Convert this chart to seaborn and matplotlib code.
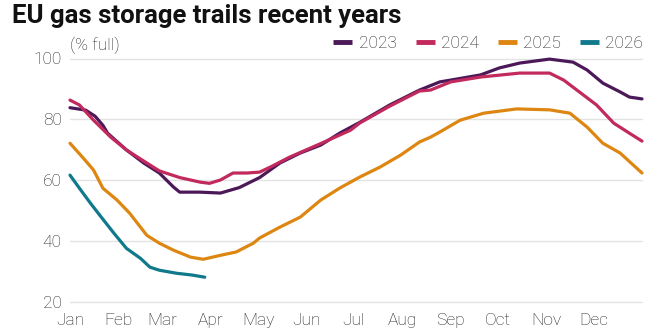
import matplotlib
matplotlib.use("Agg")
import matplotlib.pyplot as plt
from matplotlib.lines import Line2D
import seaborn as sns
import pandas as pd

# ---- data (day of year, % full) ----
days_2023 = [0, 10, 16, 21, 24, 36, 47, 57, 66, 70, 83, 96, 108, 121, 134, 147, 160, 172,
             185, 204, 223, 236, 243, 262, 274, 287, 306, 321, 330, 340, 351, 357, 365]
vals_2023 = [83.8, 83.0, 81.0, 78.0, 75.4, 69.9, 65.6, 62.3, 57.7, 56.0, 56.0, 55.7, 57.5,
             60.8, 65.6, 68.9, 71.5, 75.4, 79.0, 84.7, 89.6, 92.3, 92.9, 94.6, 96.9, 98.5,
             99.8, 98.8, 96.2, 91.9, 89.0, 87.3, 86.7]

days_2024 = [0, 6, 15, 26, 36, 49, 57, 70, 83, 89, 96, 104, 113, 121, 128, 140, 160, 179,
             185, 204, 223, 230, 243, 262, 287, 306, 315, 325, 336, 347, 357, 365]
vals_2024 = [86.3, 84.7, 79.7, 74.1, 69.9, 65.6, 63.0, 60.8, 59.3, 58.9, 60.0, 62.3, 62.3,
             62.6, 64.3, 67.5, 72.0, 76.4, 78.8, 84.3, 89.3, 89.6, 92.3, 93.9, 95.2, 95.2,
             92.9, 89.0, 84.7, 78.7, 75.4, 72.8]

days_2025 = [0, 8, 15, 21, 30, 38, 49, 57, 66, 77, 85, 96, 106, 117, 121, 134, 147, 160,
             172, 185, 198, 211, 223, 230, 236, 249, 264, 285, 306, 319, 330, 340, 351, 365]
vals_2025 = [72.1, 67.5, 63.3, 57.3, 53.4, 49.1, 41.8, 39.2, 36.9, 34.6, 33.9, 35.2, 36.3,
             39.2, 40.9, 44.5, 47.8, 53.4, 57.3, 61.0, 64.3, 68.2, 72.5, 74.1, 75.8, 79.7,
             82.0, 83.4, 83.1, 82.0, 77.4, 72.1, 68.9, 62.3]

days_2026 = [0, 6, 13, 19, 28, 36, 45, 51, 57, 68, 78, 86]
vals_2026 = [61.6, 57.3, 52.4, 48.4, 42.5, 37.5, 34.2, 31.3, 30.3, 29.3, 28.7, 28.0]

years = ["2023", "2024", "2025", "2026"]
colors = ["#4b1858", "#c2295d", "#dd8712", "#10798b"]

month_starts = [0, 31, 59, 90, 120, 151, 181, 212, 243, 273, 304, 334]
month_labels = ["Jan", "Feb", "Mar", "Apr", "May", "Jun",
                "Jul", "Aug", "Sep", "Oct", "Nov", "Dec"]
y_ticks = [20, 40, 60, 80, 100]

frames = []
for yr, d, v in zip(years, [days_2023, days_2024, days_2025, days_2026],
                    [vals_2023, vals_2024, vals_2025, vals_2026]):
    frames.append(pd.DataFrame({"day": d, "value": v, "year": yr}))
df = pd.concat(frames, ignore_index=True)

# ---- style ----
sns.set_theme(style="white")
plt.rcParams["font.family"] = ["Roboto", "DejaVu Sans"]

W, H = 664, 334
fig = plt.figure(figsize=(W / 100, H / 100), dpi=100)
ax = fig.add_axes([70 / W, 1 - 301.5 / H, (642 - 70) / W, (301.5 - 58.5) / H])

for yv in y_ticks:
    ax.axhline(yv, color="#e3e3e3", lw=1.0, zorder=0)

sns.lineplot(data=df, x="day", y="value", hue="year", palette=dict(zip(years, colors)),
             linewidth=2.3, legend=False, ax=ax, sort=False, estimator=None)
for ln in ax.lines:
    ln.set_clip_on(False)
    ln.set_solid_capstyle("round")
    ln.set_solid_joinstyle("round")

ax.set_xlim(0, 365)
ax.set_ylim(20, 100)
ax.set_xticks(month_starts)
ax.set_xticklabels(month_labels)
ax.set_yticks(y_ticks)
ax.set_xlabel("")
ax.set_ylabel("")
for s in ax.spines.values():
    s.set_visible(False)
ax.tick_params(axis="both", length=0, labelsize=12.5, labelcolor="#222222")
ax.tick_params(axis="x", pad=8.5)
ax.tick_params(axis="y", pad=6)
for lab in ax.get_xticklabels() + ax.get_yticklabels():
    lab.set_fontweight("light")

fig.text(12 / W, 1 - 23 / H, "EU gas storage trails recent years", fontsize=18.5,
         fontweight="bold", color="#111111", va="baseline", ha="left")
fig.text(70 / W, 1 - 45 / H, "(% full)", fontsize=12.5, fontweight="light",
         color="#222222", va="center", ha="left")

handles = [Line2D([0], [0], color=c, lw=3.5, solid_capstyle="butt") for c in colors]
leg = fig.legend(handles, years, ncol=4, loc="center right",
                 bbox_to_anchor=(643 / W, 1 - 43 / H), frameon=False,
                 fontsize=12.5, handlelength=1.1, handletextpad=0.35,
                 columnspacing=1.1, borderaxespad=0, borderpad=0)
for t in leg.get_texts():
    t.set_fontweight("light")
    t.set_color("#222222")

fig.savefig("out.png", dpi=100, facecolor="white")
